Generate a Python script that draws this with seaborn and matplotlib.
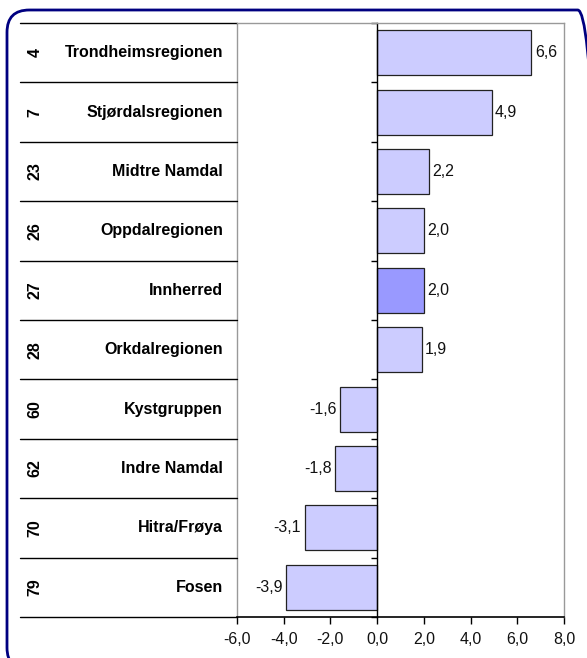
import matplotlib
matplotlib.use("Agg")
import matplotlib.pyplot as plt
from matplotlib.patches import FancyBboxPatch
from matplotlib.transforms import blended_transform_factory
import seaborn as sns
import pandas as pd

ranks = ["4", "7", "23", "26", "27", "28", "60", "62", "70", "79"]
regions = ["Trondheimsregionen", "Stjørdalsregionen", "Midtre Namdal", "Oppdalregionen",
           "Innherred", "Orkdalregionen", "Kystgruppen", "Indre Namdal", "Hitra/Frøya", "Fosen"]
values = [6.6, 4.9, 2.2, 2.0, 2.0, 1.9, -1.6, -1.8, -3.1, -3.9]
highlight = "Innherred"
xticks = [-6, -4, -2, 0, 2, 4, 6, 8]

sns.set_theme(style="white")
plt.rcParams['font.family'] = ['Liberation Sans', 'DejaVu Sans']
FS = 11.5

df = pd.DataFrame({"region": regions, "value": values})
colors = ["#9999FF" if r == highlight else "#CCCCFF" for r in regions]

W, H = 587, 658
fig = plt.figure(figsize=(W / 100, H / 100), dpi=100)
ax = fig.add_axes([237 / W, 41 / H, (564 - 237) / W, (617 - 23) / H])

sns.barplot(data=df, y="region", x="value", hue="region", palette=colors, legend=False,
            orient="h", width=0.76, edgecolor="#222222", linewidth=0.9, ax=ax, saturation=1)

n = len(regions)
ax.set_xlim(-6, 8)
ax.set_ylim(n - 0.5, -0.5)
ax.set_xticks(xticks)
ax.set_xticklabels([f"{t:.1f}".replace(".", ",") for t in xticks], fontsize=FS, color="#111111")
ax.set_xlabel("")
ax.set_ylabel("")
ax.set_yticks(range(n))
ax.set_yticklabels([])
ax.set_yticks([i + 0.5 for i in range(-1, n)], minor=True)
ax.tick_params(axis="y", which="major", length=0)
ax.tick_params(axis="y", which="minor", length=4, width=1, color="black", left=True, direction="out")
ax.tick_params(axis="x", length=5, width=1, color="black", bottom=True, direction="out", pad=6)

ax.spines['left'].set_position(('data', 0))
ax.spines['left'].set_color("black")
ax.spines['left'].set_linewidth(1)
ax.spines['bottom'].set_color("black")
ax.spines['bottom'].set_linewidth(1.2)
for s in ['top', 'right']:
    ax.spines[s].set_color("#999999")
    ax.spines[s].set_linewidth(1)
ax.plot([0, 0], [0, 1], transform=ax.transAxes, color="#999999", lw=1, clip_on=False)

# value labels
for i, v in enumerate(values):
    txt = f"{v:.1f}".replace(".", ",")
    if v >= 0:
        ax.text(v + 0.15, i, txt, ha="left", va="center", fontsize=FS, color="#111111")
    else:
        ax.text(v - 0.15, i, txt, ha="right", va="center", fontsize=FS, color="#111111")

# left table
tr = blended_transform_factory(ax.transAxes, ax.transData)
x0 = (20 - 237) / (564 - 237)
for b in [i + 0.5 for i in range(-1, n)]:
    ax.plot([x0, 0], [b, b], transform=tr, color="black", lw=1, clip_on=False)
xr = (35 - 237) / (564 - 237)
xn = (223 - 237) / (564 - 237)
for i, (r, name) in enumerate(zip(ranks, regions)):
    ax.text(xr, i, r, transform=tr, rotation=90, ha="center", va="center",
            fontsize=FS, fontweight="bold", color="black")
    ax.text(xn, i, name, transform=tr, ha="right", va="center",
            fontsize=FS, fontweight="bold", color="black")

# rounded border (extends past the right and bottom image edges)
border = FancyBboxPatch((7 / W, -12 / H), (600 - 7) / W, (660) / H,
                        boxstyle="round,pad=0,rounding_size=0.038",
                        transform=fig.transFigure, fill=False, edgecolor="#000080",
                        linewidth=2, clip_on=False, mutation_aspect=W / H)
fig.patches.append(border)

fig.savefig("out.png", dpi=100)
